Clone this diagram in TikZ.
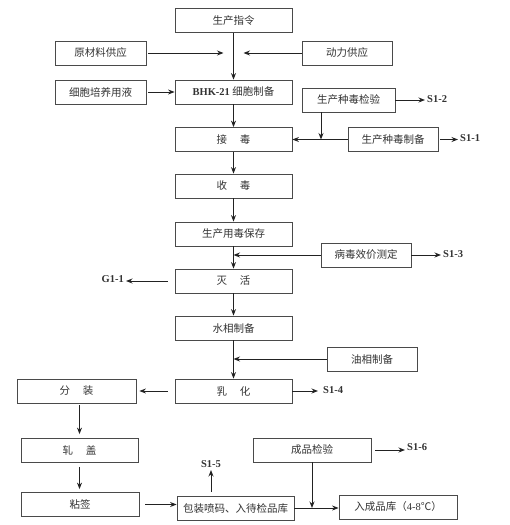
\documentclass[tikz,border=0pt]{standalone}
\usepackage{fontspec}
\setmainfont{Liberation Serif}
\newfontfamily\cjk{Noto Sans CJK SC}
\usetikzlibrary{positioning, arrows.meta}
\definecolor{boxgray}{HTML}{4A4A4A}
\definecolor{linegray}{HTML}{222222}
\definecolor{txtgray}{HTML}{333333}

\begin{document}
\begin{tikzpicture}[
    x=1pt, y=-1pt,
    box/.style={
        draw=boxgray,
        line width=0.8pt,
        minimum width=117pt,
        minimum height=24pt,
        inner sep=0pt,
        text=txtgray,
        font=\cjk\fontsize{10.5}{12}\selectfont
    },
    side/.style={box, minimum width=90pt},
    tag/.style={inner sep=2pt, text=txtgray, font=\bfseries\fontsize{10.5}{12}\selectfont},
    flow/.style={draw=linegray, line width=1pt, -{Stealth[length=6.5pt, width=5pt]}}
]
\useasboundingbox[fill=white] (0,0) rectangle (510,525);

%% ── Main column ──────────────────────────────────────────────────────────────
\node[box] (order)   at (233.5, 20.5) {生产指令};
\node[box] (bhk)     at (233.5, 92)   {{\rmfamily\bfseries BHK-21} 细胞制备};
\node[box] (inoc)    at (233.5, 139.5){接\hspace{1.2em}毒};
\node[box] (harvest) at (233.5, 186)  {收\hspace{1.2em}毒};
\node[box] (keep)    at (233.5, 234)  {生产用毒保存};
\node[box] (inact)   at (233.5, 281)  {灭\hspace{1.2em}活};
\node[box] (water)   at (233.5, 328)  {水相制备};
\node[box] (emul)    at (233.5, 391)  {乳\hspace{1.2em}化};

%% ── Inputs / side boxes ─────────────────────────────────────────────────────
\node[side, minimum width=91pt] (raw)    at (100.5, 53)  {原材料供应};
\node[side] (power)                      at (347, 53)    {动力供应};
\node[side, minimum width=91pt] (medium) at (100.5, 92)  {细胞培养用液};
\node[side, minimum width=93pt] (seedtest) at (348.5, 100) {生产种毒检验};
\node[side] (seedprep)                   at (393, 139.5) {生产种毒制备};
\node[side] (titer)                      at (366, 255)   {病毒效价测定};
\node[side] (oil)                        at (372, 359)   {油相制备};

%% ── Packing line ─────────────────────────────────────────────────────────────
\node[box, minimum width=119pt] (fill)  at (76.5, 391)  {分\hspace{1.2em}装};
\node[box] (cap)                        at (79.5, 450.5){轧\hspace{1.2em}盖};
\node[box, minimum width=118pt] (label) at (80, 504.5)  {粘签};
\node[box] (pack)                       at (235.5, 508) {包装喷码、入待检品库};
\node[box, minimum width=118pt] (final) at (312, 450)   {成品检验};
\node[box, minimum width=118pt] (depot) at (398, 507)   {入成品库（{\rmfamily 4-8}℃）};

%% ── Output tags ─────────────────────────────────────────────────────────────
\node[tag, anchor=west] (s12) at (425, 99)    {S1-2};
\node[tag, anchor=west] (s11) at (458, 138)   {S1-1};
\node[tag, anchor=west] (s13) at (441, 254)   {S1-3};
\node[tag, anchor=east] (g11) at (126, 279)   {G1-1};
\node[tag, anchor=west] (s14) at (321, 390)   {S1-4};
\node[tag, anchor=south] (s15) at (211, 470)  {S1-5};
\node[tag, anchor=west] (s16) at (405, 447)   {S1-6};

%% ── Main flow ────────────────────────────────────────────────────────────────
\draw[flow] (order) -- (bhk);
\draw[flow] (bhk) -- (inoc);
\draw[flow] (inoc) -- (harvest);
\draw[flow] (harvest) -- (keep);
\draw[flow] (keep) -- (inact);
\draw[flow] (inact) -- (water);
\draw[flow] (water) -- (emul);

%% ── Feeds into the main column ───────────────────────────────────────────────
\draw[flow, shorten <=2pt, shorten >=10pt] (raw.east) -- (raw.east -| order.south);
\draw[flow, shorten >=10pt] (power.west) -- (power.west -| order.south);
\draw[flow, shorten <=2pt] (medium) -- (bhk);
\coordinate (tx) at (321,0);
\draw[flow] (seedtest.south -| tx) -- (inoc.east -| tx);
\draw[flow] (seedprep.west) -- (inoc.east);
\draw[flow] (titer.west) -- (titer.west -| keep.south);
\draw[flow] (oil.west) -- (oil.west -| water.south);

%% ── Samples / emissions ──────────────────────────────────────────────────────
\draw[flow] (seedtest.east) -- (s12.west |- seedtest.east);
\draw[flow, shorten <=2pt] (seedprep.east) -- (seedprep.east -| s11.west);
\draw[flow] (titer.east) -- (titer.east -| s13.west);
\draw[flow, shorten <=7pt] (inact.west) -- (inact.west -| g11.east);
\draw[flow, shorten >=3pt] (emul.east) -- (emul.east -| s14.west);
\draw[flow, shorten <=4pt] (pack.north -| s15.south) -- (s15.south);
\draw[flow, shorten <=4pt] (final.east) -- (final.east -| s16.west);

%% ── Packing steps ────────────────────────────────────────────────────────────
\draw[flow, shorten <=7pt, shorten >=3pt] (emul.west) -- (fill.east);
\draw[flow, shorten <=2pt, shorten >=4pt] (fill.south -| cap.south) -- (cap.north);
\draw[flow, shorten <=4pt, shorten >=3pt] (cap.south) -- (cap.south |- label.north);
\draw[flow, shorten <=6pt] (label.east) -- (label.east -| pack.west);
\draw[flow] (pack.east) -- (pack.east -| depot.west);
\draw[flow] (final.south) -- (final.south |- pack.east);

\end{tikzpicture}
\end{document}
